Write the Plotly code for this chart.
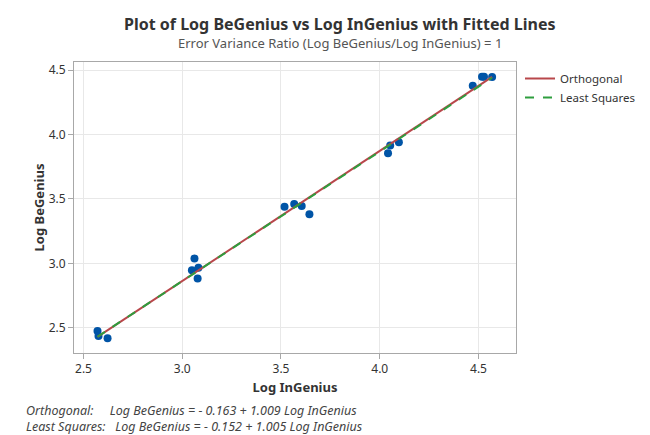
import plotly.graph_objects as go

log_ingenius = [2.571, 2.576, 2.622, 3.062, 3.049, 3.082, 3.078,
                3.518, 3.567, 3.605, 3.644, 4.053, 4.097, 4.042,
                4.471, 4.518, 4.528, 4.569]
log_begenius = [2.477, 2.438, 2.420, 3.039, 2.948, 2.967, 2.883,
                3.440, 3.461, 3.446, 3.381, 3.915, 3.940, 3.855,
                4.378, 4.448, 4.448, 4.445]

orth_coef = [-0.163, 1.009]
ls_coef = [-0.152, 1.005]

x_ticks = [2.5, 3.0, 3.5, 4.0, 4.5]
y_ticks = [2.5, 3.0, 3.5, 4.0, 4.5]

font = "Noto Sans"
xmin, xmax = min(log_ingenius), max(log_ingenius)
xs = [xmin, xmax]

L, R, T, B = 74, 134, 62, 82
PW, PH = 650 - L - R, 435 - T - B

def px(x):
    return (x - L) / PW

def py(y):
    return (435 - B - y) / PH

fig = go.Figure()
fig.add_trace(go.Scatter(x=log_ingenius, y=log_begenius, mode="markers",
                         marker=dict(color="#0054A6", size=8),
                         showlegend=False))
fig.add_trace(go.Scatter(x=xs, y=[orth_coef[0] + orth_coef[1] * v for v in xs],
                         mode="lines", name="Orthogonal",
                         line=dict(color="#B8474B", width=2)))
fig.add_trace(go.Scatter(x=xs, y=[ls_coef[0] + ls_coef[1] * v for v in xs],
                         mode="lines", name="Least Squares",
                         line=dict(color="#2E9E3E", width=2, dash="dash")))

footnote = ("<i>Orthogonal:     Log BeGenius = - 0.163 + 1.009 Log InGenius</i><br>"
            "<i>Least Squares:   Log BeGenius = - 0.152 + 1.005 Log InGenius</i>")

fig.update_layout(
    width=650, height=435,
    paper_bgcolor="white", plot_bgcolor="white",
    margin=dict(l=L, r=R, t=T, b=B, autoexpand=False),
    font=dict(family=font, color="#333333", size=12),
    showlegend=True,
    legend=dict(x=px(641), y=py(64), xanchor="right", yanchor="top",
                font=dict(size=11.5, color="#333333"), tracegroupgap=0,
                itemwidth=30, bgcolor="rgba(0,0,0,0)"),
    annotations=[
        dict(text="<b>Plot of Log BeGenius vs Log InGenius with Fitted Lines</b>",
             x=px(340), y=py(24), xref="paper", yref="paper",
             showarrow=False, xanchor="center", yanchor="middle",
             font=dict(size=16, color="#333333", family=font)),
        dict(text="Error Variance Ratio (Log BeGenius/Log InGenius) = 1",
             x=px(340), y=py(43), xref="paper", yref="paper",
             showarrow=False, xanchor="center", yanchor="middle",
             font=dict(size=13, color="#555555", family=font)),
        dict(text=footnote, align="left",
             x=px(24), y=py(418.5), xref="paper", yref="paper",
             showarrow=False, xanchor="left", yanchor="middle",
             font=dict(size=12.5, color="#444444", family=font)),
    ],
)

axis_common = dict(showgrid=True, gridcolor="#E8E8E8", gridwidth=1,
                   showline=True, linecolor="#A8A8A8", linewidth=1, mirror=True,
                   ticks="outside", ticklen=5, tickcolor="#A8A8A8",
                   zeroline=False, automargin=False,
                   tickfont=dict(size=12, color="#333333"))

fig.update_xaxes(range=[2.452, 4.690], tickvals=x_ticks,
                 ticktext=[f"{v:.1f}" for v in x_ticks],
                 title=dict(text="<b>Log InGenius</b>",
                            font=dict(size=13, color="#333333"), standoff=6),
                 **axis_common)
fig.update_yaxes(range=[2.306, 4.562], tickvals=y_ticks,
                 ticktext=[f"{v:.1f}" for v in y_ticks],
                 title=dict(text="<b>Log BeGenius</b>",
                            font=dict(size=13, color="#333333"), standoff=1),
                 **axis_common)

fig.write_html("out.html", config={"displayModeBar": False},
               post_script="document.body.style.margin='0';"
                           "document.body.style.overflow='hidden';")
